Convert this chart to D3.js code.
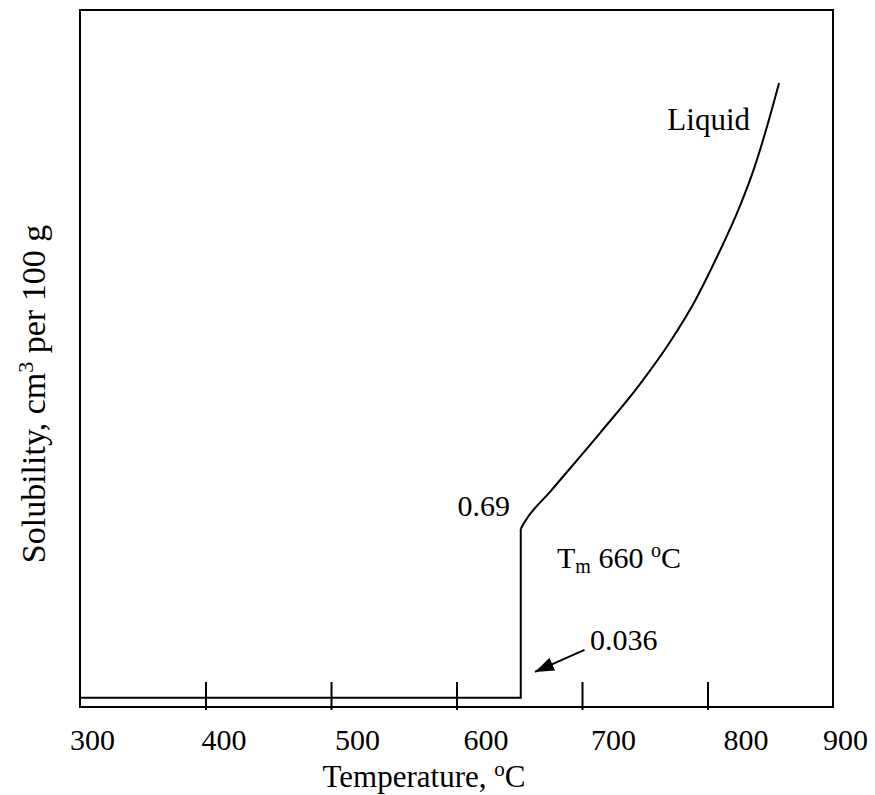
<!DOCTYPE html>
<html>
<head>
<meta charset="utf-8">
<script src="https://cdnjs.cloudflare.com/ajax/libs/d3/7.8.5/d3.min.js"></script>
<style>
  body { margin: 0; background: #fff; }
  text { font-family: "Liberation Serif", "Times New Roman", serif; fill: #000; }
</style>
</head>
<body>
<script>
// Solid phase: flat line then jump at the melting point
var solidTemp = [300, 651.2, 651.2];
var solidSol = [0.036, 0.036, 0.69];

// Liquid solubility curve
var liquidTemp = [651.2, 653.8, 674.5, 714.3, 746.2, 770.1, 790, 807.5, 825.9, 837.8, 846.6, 857];
var liquidSol = [0.69, 0.713, 0.833, 1.061, 1.251, 1.414, 1.573, 1.743, 1.941, 2.096, 2.235, 2.417];

// Axis ticks
var tickMarks = [400, 500, 600, 700, 800];
var tickLabels = [300, 400, 500, 600, 700, 800, 900];

// Margins and size
var width = 875, height = 795;
var margin = {top: 10, right: 42, bottom: 88, left: 80};
var plot_w = width - margin.left - margin.right;
var plot_h = height - margin.top - margin.bottom;

// label nudges, the original labels sit off their ticks
var labelShift = [12, 18, 26, 29, 31, 38, 12];

var svg = d3.select("body")
  .append("svg")
  .attr("width", width)
  .attr("height", height);

var g = svg.append("g")
  .attr("transform", "translate(" + margin.left + "," + margin.top + ")");

var xScale = d3.scaleLinear().domain([300, 900]).range([0, plot_w]);
var yScale = d3.scaleLinear().domain([0, 2.7]).range([plot_h, 0]);

// frame
g.append("rect")
  .attr("x", 0).attr("y", 0)
  .attr("width", plot_w).attr("height", plot_h)
  .attr("fill", "none")
  .attr("stroke", "#000")
  .attr("stroke-width", 2);

// tick marks (cross the bottom edge)
var tickAxis = d3.axisBottom(xScale)
  .tickValues(tickMarks)
  .tickSize(28)
  .tickFormat("");
g.append("g")
  .attr("transform", "translate(0," + (plot_h - 25) + ")")
  .call(tickAxis)
  .call(function(s) { s.select(".domain").remove(); })
  .selectAll("line")
  .attr("stroke", "#000")
  .attr("stroke-width", 2);

// tick labels
var labelAxis = d3.axisBottom(xScale)
  .tickValues(tickLabels)
  .tickSize(0)
  .tickFormat(d3.format("d"));
var lab = g.append("g")
  .attr("transform", "translate(0," + plot_h + ")")
  .call(labelAxis);
lab.select(".domain").remove();
lab.selectAll("text")
  .attr("y", 43)
  .attr("dy", 0)
  .attr("dx", function(d, i) { return labelShift[i]; })
  .style("font-size", "30px")
  .style("font-family", "'Liberation Serif', serif")
  .attr("fill", "#000");

var line = d3.line()
  .x(function(d) { return xScale(d[0]); })
  .y(function(d) { return yScale(d[1]); });

// solid part
g.append("path")
  .datum(solidTemp.map(function(t, i) { return [t, solidSol[i]]; }))
  .attr("d", line)
  .attr("fill", "none")
  .attr("stroke", "#000")
  .attr("stroke-width", 2);

// liquid curve
g.append("path")
  .datum(liquidTemp.map(function(t, i) { return [t, liquidSol[i]]; }))
  .attr("d", line.curve(d3.curveMonotoneX))
  .attr("fill", "none")
  .attr("stroke", "#000")
  .attr("stroke-width", 2);

// arrow marker
svg.append("defs").append("marker")
  .attr("id", "arr")
  .attr("markerUnits", "userSpaceOnUse")
  .attr("viewBox", "0 0 19 14")
  .attr("refX", 19).attr("refY", 7)
  .attr("markerWidth", 19).attr("markerHeight", 14)
  .attr("orient", "auto")
  .append("path")
  .attr("d", "M0,0 L19,7 L0,14 Z")
  .attr("fill", "#000");

g.append("line")
  .attr("x1", xScale(702)).attr("y1", yScale(0.221))
  .attr("x2", xScale(662.5)).attr("y2", yScale(0.136))
  .attr("stroke", "#000")
  .attr("stroke-width", 2)
  .attr("marker-end", "url(#arr)");

// annotations
svg.append("text")
  .attr("x", 750).attr("y", 130)
  .attr("text-anchor", "end")
  .style("font-size", "31px")
  .text("Liquid");

svg.append("text")
  .attr("x", 510).attr("y", 516)
  .attr("text-anchor", "end")
  .style("font-size", "30px")
  .text("0.69");

svg.append("text")
  .attr("x", 590).attr("y", 650)
  .style("font-size", "30px")
  .text("0.036");

var tm = svg.append("text")
  .attr("x", 557).attr("y", 568)
  .style("font-size", "30px");
tm.append("tspan").text("T");
tm.append("tspan").attr("dy", 5).style("font-size", "20px").text("m");
tm.append("tspan").attr("dy", -5).text(" 660 ");
tm.append("tspan").attr("dy", -11).style("font-size", "20px").text("o");
tm.append("tspan").attr("dy", 11).text("C");

// axis titles
var xt = svg.append("text")
  .attr("x", 424).attr("y", 787)
  .attr("text-anchor", "middle")
  .style("font-size", "31px");
xt.append("tspan").text("Temperature, ");
xt.append("tspan").attr("dy", -11).style("font-size", "21px").text("o");
xt.append("tspan").attr("dy", 11).text("C");

var yt = svg.append("text")
  .attr("transform", "translate(45,394) rotate(-90)")
  .attr("text-anchor", "middle")
  .style("font-size", "34px");
yt.append("tspan").text("Solubility, cm");
yt.append("tspan").attr("dy", -12).style("font-size", "22px").text("3");
yt.append("tspan").attr("dy", 12).text(" per 100 g");
</script>
</body>
</html>
